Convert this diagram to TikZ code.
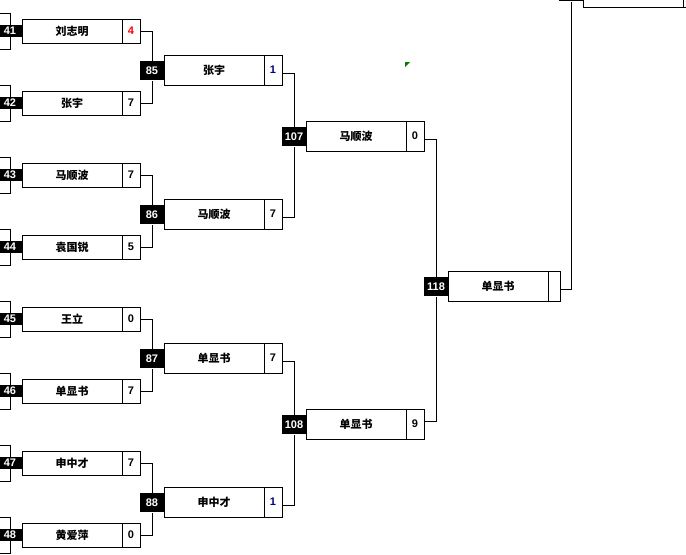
\documentclass[tikz,border=0pt]{standalone}
\usepackage{fontspec}
\setmainfont{Liberation Sans}
\newfontfamily\cjk{Noto Sans CJK SC}
\definecolor{scoreblue}{RGB}{0,0,128}
\newcommand\bracketnum{\bfseries\fontsize{8.25}{9}\selectfont}
\newcommand\bracketname{\cjk\bfseries\fontsize{8.25}{9}\selectfont}
\begin{document}
\begin{tikzpicture}[x=0.75pt,y=-0.75pt,line width=0.75pt,
  namebox/.style={draw,fill=white,minimum width=75pt,inner sep=0pt,font=\bracketname},
  scorebox/.style={draw,fill=white,minimum width=13.5pt,inner sep=0pt,font=\bracketnum},
  tag/.style={fill=black,text=white,minimum width=18pt,inner sep=0pt,font=\bracketnum},
  r1/.style={minimum height=18pt},
  r2/.style={minimum height=22.5pt}]
  \path[use as bounding box,fill=white] (0,0) rectangle (686,554);
  % first round
  \foreach \id/\y/\who/\pts/\col in {41/31/刘志明/4/red,42/103/张宇/7/black,
      43/175/马顺波/7/black,44/247/袁国锐/5/black,45/319/王立/0/black,
      46/391/单显书/7/black,47/463/申中才/7/black,48/535/黄爱萍/0/black}{
    \coordinate (a\id) at (0,\y-18);
    \coordinate (b\id) at (0,\y+18);
    \draw (a\id) -- ++(10,0) |- (b\id);
    \node[tag,minimum height=9pt] (t\id) at (10,\y) {\id};
    \node[namebox,r1] (n\id) at (72,\y) {\who};
    \node[scorebox,r1,text=\col] (s\id) at (131,\y) {\pts};
  }
  % second round
  \foreach \id/\y/\who/\pts/\col/\up/\dn in {85/70/张宇/1/scoreblue/41/42,
      86/214/马顺波/7/black/43/44,87/358/单显书/7/black/45/46,
      88/502/申中才/1/scoreblue/47/48}{
    \node[tag,minimum height=14.25pt] (t\id) at (152,\y+0.5) {\id};
    \node[namebox,r2] (n\id) at (214,\y) {\who};
    \node[scorebox,r2,text=\col] (s\id) at (273,\y) {\pts};
    \draw (s\up.east) -| (t\id.north);
    \draw (s\dn.east) -| (t\id.south);
  }
  % semi finals
  \foreach \id/\y/\who/\pts/\up/\dn in {107/136/马顺波/0/85/86,108/424/单显书/9/87/88}{
    \node[tag,minimum height=14.25pt] (t\id) at (294,\y+0.5) {\id};
    \node[namebox,r2] (n\id) at (356,\y) {\who};
    \node[scorebox,r2] (s\id) at (415,\y) {\pts};
    \draw ([yshift=-2.25pt]s\up.east) -| (t\id.north);
    \draw ([yshift=-2.25pt]s\dn.east) -| (t\id.south);
  }
  % final
  \node[tag,minimum height=14.25pt] (t118) at (436,286.5) {118};
  \node[namebox,r2] (n118) at (498,286) {单显书};
  \node[scorebox,r2,minimum width=9pt] (s118) at (554,286) {};
  \draw ([yshift=-2.25pt]s107.east) -| (t118.north);
  \draw ([yshift=2.25pt]s108.east) -| (t118.south);
  % next block, cut off at the top
  \node[tag,minimum height=14.25pt] (tTop) at (571,-8.5) {};
  \node[namebox,r2] (nTop) at (633,-8) {};
  \node[scorebox,r2] (sTop) at (692,-8) {};
  \draw ([yshift=-2.25pt]s118.east) -| (tTop.south);
  \fill[green!50!black] (405,62) -- (410,62) -- (405,67) -- cycle;
\end{tikzpicture}
\end{document}
